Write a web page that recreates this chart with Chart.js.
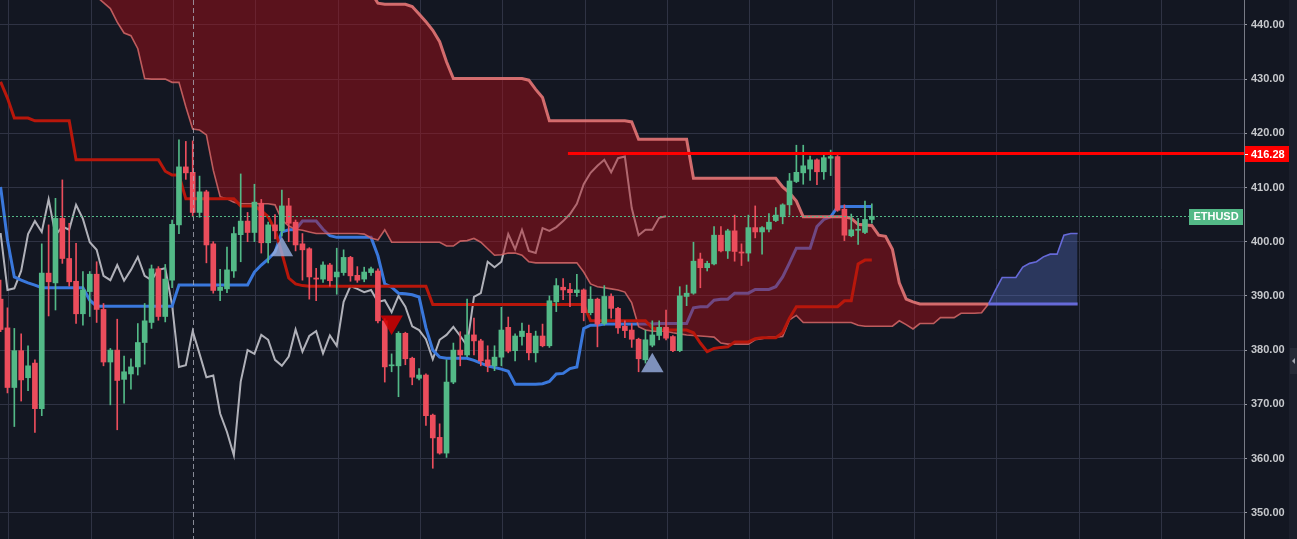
<!DOCTYPE html>
<html><head><meta charset="utf-8">
<script src="https://cdn.jsdelivr.net/npm/chart.js@4.4.1/dist/chart.umd.min.js"></script>
<style>html,body{margin:0;padding:0;background:#131722;overflow:hidden}canvas{display:block}</style>
</head><body><canvas id="c" width="1297" height="539"></canvas>
<script>
// ---------- DATA ----------
const symbol = 'ETHUSD';
const open = [389.4,384.1,373.1,379.9,374.9,377.6,369.2,394.2,392.4,404.3,
396.9,392.7,386.7,390.8,394.0,387.5,377.8,380.0,374.6,375.6,
376.9,381.4,385.1,395.0,386.2,392.9,403.1,413.8,412.8,405.4,
409.2,399.6,391.0,391.3,394.6,401.3,403.8,401.7,407.1,399.8,
403.1,402.0,406.6,403.6,399.6,398.7,393.3,393.1,395.7,393.5,
394.3,397.1,393.8,393.1,394.3,394.6,385.4,377.1,377.1,383.1,
378.5,374.8,375.4,368.0,363.9,361.0,374.1,380.0,379.1,382.8,
381.7,378.2,377.1,378.7,384.2,379.9,382.5,383.1,379.5,382.6,
380.8,388.9,391.6,391.2,390.6,391.1,386.9,389.4,384.9,389.9,
387.7,384.4,383.7,382.0,378.2,380.9,382.7,384.2,382.5,379.9,
389.9,390.5,396.8,395.2,395.9,401.2,398.3,402.0,398.1,397.9,
402.6,401.8,402.3,403.9,404.6,406.8,411.1,412.7,413.4,415.1,
412.9,415.4,415.7,406.0,401.1,402.1,401.7,404.1];
const high = [392.9,387.8,384.0,383.0,380.8,378.2,399.6,403.1,408.0,411.4,
403.4,399.7,394.5,394.5,396.3,388.6,380.3,385.7,378.9,378.4,
384.9,388.6,395.7,395.4,395.8,404.0,418.8,418.5,418.6,412.1,
409.5,400.0,394.9,399.0,402.7,412.5,405.4,410.6,407.8,403.6,
405.0,409.5,408.0,404.0,401.5,398.9,395.1,396.3,396.0,398.8,
398.5,397.3,395.4,395.3,395.3,395.0,385.8,379.3,383.4,383.3,
378.7,376.6,375.6,368.2,366.4,378.2,381.3,383.4,389.4,385.9,
382.0,380.8,380.8,387.9,386.1,383.0,385.0,384.6,383.5,384.8,
390.0,393.2,393.2,392.3,394.0,391.3,391.7,389.6,391.9,390.4,
387.9,385.4,384.9,382.2,383.7,385.4,385.4,387.4,382.7,391.7,
392.0,399.9,397.9,396.4,402.8,402.8,402.3,404.9,399.6,404.9,
406.6,402.8,405.2,406.3,407.0,412.6,417.8,417.8,415.8,415.3,
416.3,416.9,415.9,406.8,405.1,404.3,407.5,407.0];
const low = [383.4,372.1,365.9,370.6,372.5,364.8,367.9,386.3,387.4,396.0,
391.8,384.9,384.6,386.2,385.1,377.1,369.9,365.3,370.2,372.8,
375.4,377.4,384.0,385.5,385.2,391.5,401.5,411.5,404.6,404.5,
396.1,390.5,389.1,390.6,393.4,396.3,400.0,400.0,397.9,396.1,
400.5,401.0,400.0,398.3,392.9,389.4,389.1,392.5,391.8,390.3,
393.8,392.7,392.5,392.6,393.8,385.0,374.1,376.0,371.4,377.3,
373.6,374.5,366.1,358.2,360.8,360.2,373.8,377.1,378.8,379.1,
377.1,376.0,376.2,377.1,379.5,378.0,380.9,378.2,377.8,380.6,
380.5,387.1,389.3,388.0,389.9,385.4,386.5,380.6,384.6,385.9,
383.1,382.3,380.5,376.0,377.6,380.6,381.9,381.9,379.7,379.7,
388.2,390.3,391.5,394.6,395.7,398.1,396.9,396.4,395.6,396.4,
400.7,397.7,401.8,403.7,403.3,404.9,410.9,410.6,411.3,410.5,
411.5,412.2,405.6,400.2,400.9,399.5,401.5,403.4];
const close = [383.8,373.1,379.9,374.5,377.1,369.2,394.2,392.6,404.3,396.9,
392.6,386.7,391.1,394.0,387.5,377.8,380.0,374.4,376.0,376.9,
381.4,385.4,395.0,386.2,393.1,403.2,413.8,412.7,405.4,409.2,
399.4,391.0,391.6,394.8,401.5,403.8,401.7,407.3,399.8,403.1,
402.0,406.6,403.4,399.4,398.5,393.5,393.1,395.7,392.8,394.4,
397.1,393.7,392.9,394.4,395.0,385.4,376.9,377.2,383.1,378.4,
375.0,375.4,367.9,363.8,361.0,374.1,380.0,379.1,382.8,381.7,
378.0,377.1,378.7,383.7,379.8,382.6,383.5,379.5,382.6,380.8,
389.1,391.9,391.1,390.6,391.1,386.9,389.4,384.8,389.9,387.7,
384.1,383.6,382.0,378.4,381.9,382.8,384.2,382.2,379.9,390.0,
390.5,396.4,395.2,396.0,401.2,398.3,402.0,398.2,397.9,402.6,
401.8,402.6,403.6,404.9,406.8,411.2,412.8,414.0,415.1,412.9,
415.5,415.7,405.8,401.2,402.2,402.3,404.1,404.7];

const tenkan = [410.1,400.3,393.5,392.9,392.4,392.0,391.5,391.5,391.5,391.5,
391.5,391.5,391.5,389.2,388.1,388.1,388.1,388.1,388.1,388.1,
388.1,388.1,388.1,388.1,388.1,388.1,392.0,392.0,392.0,392.0,
392.0,392.0,392.0,392.0,392.0,392.0,392.0,394.4,395.7,396.8,
398.1,401.8,402.2,402.2,403.8,403.8,403.8,402.3,401.1,400.8,
400.8,400.8,400.8,400.8,400.8,397.4,392.2,391.6,390.5,390.4,
390.2,389.8,384.1,380.0,378.7,378.5,378.5,378.5,378.5,378.1,
377.6,377.1,376.8,376.5,376.1,373.7,373.7,373.7,373.7,373.8,
374.2,375.6,375.7,376.6,376.9,384.0,384.6,384.6,384.8,384.8,
384.8,384.8,384.8,384.8,384.8,384.8,384.9,384.9,384.9,384.9,
384.9,387.8,388.0,388.0,389.2,389.4,389.4,390.5,390.5,390.5,
391.2,391.2,391.2,391.7,393.5,396.1,398.8,398.8,398.8,402.8,
404.1,404.6,406.4,406.5,406.5,406.5,406.5,406.5];

const kijun = [429.5,426.5,422.8,422.8,422.8,422.3,422.3,422.3,422.3,422.3,
422.3,415.1,415.1,415.1,415.1,415.1,415.1,415.1,415.1,415.1,
415.1,415.1,415.1,415.1,413.0,412.3,412.3,407.9,407.9,407.9,
407.9,407.9,407.9,407.9,407.9,406.6,406.6,406.6,405.7,404.6,
402.2,397.9,393.3,392.2,391.9,391.8,391.8,391.8,391.8,391.8,
391.8,391.8,391.8,391.8,391.8,391.8,391.8,391.8,391.8,391.8,
391.8,391.8,391.8,388.4,388.4,388.4,388.4,388.4,388.4,388.4,
388.4,388.4,388.4,388.4,388.4,388.4,388.4,388.4,388.4,388.4,
388.4,388.4,388.4,388.4,388.4,388.4,385.4,385.4,385.4,385.4,
385.4,385.4,385.4,385.4,385.4,384.1,383.7,383.7,383.7,383.7,
383.7,383.2,381.3,379.7,380.3,380.5,380.6,381.5,381.5,381.5,
382.1,382.3,382.3,382.3,383.2,385.9,388.0,388.0,388.0,388.0,
388.0,388.0,388.0,389.1,389.1,395.9,396.6,396.6];

const chikou = [401.6,391.1,391.4,394.6,401.4,403.8,401.8,407.8,401.2,402.8,
402.2,406.8,404.2,399.9,398.5,393.7,392.9,395.7,392.8,394.8,
397.2,393.7,392.9,394.8,395.1,388.3,376.9,377.2,383.5,379.3,
375.0,375.3,368.3,364.9,360.6,374.2,380.0,379.3,382.8,381.9,
378.2,377.1,378.8,383.8,379.7,382.6,383.5,379.4,382.7,380.8,
388.9,391.8,391.3,390.7,391.1,388.9,389.2,387.0,390.0,388.0,
384.4,383.7,382.0,378.3,381.9,382.8,384.3,382.6,380.8,389.8,
390.5,396.3,395.3,396.3,401.4,398.6,402.2,398.3,397.9,402.5,
402.0,402.7,403.8,405.1,407.0,410.6,412.7,414.0,415.1,412.8,
415.4,415.7,406.2,401.2,402.2,402.2,404.4,404.7];

const spanA = [448,448,448,448,448,448,448,448,448,448,
448,448,448,446.5,445.2,444.1,443.0,440.5,438.5,438.0,
435.6,430.1,430.0,430.0,430.0,429.4,429.4,424.9,420.8,420.6,
419.7,413.2,408.3,407.9,407.3,407.0,407.0,407.0,407.0,407.0,
406.8,404.0,402.9,402.3,402.1,401.8,401.5,401.5,401.5,401.5,
401.5,401.5,401.5,401.4,400.7,400.3,402.2,399.9,399.9,399.9,
399.9,399.9,399.9,399.9,399.9,399.2,399.2,400.1,400.2,400.6,
399.9,398.7,397.5,397.6,397.9,397.9,397.5,396.3,396.1,396.1,
396.1,396.1,396.1,396.1,396.1,394.4,392.2,391.7,391.5,391.3,
391.1,390.7,388.7,384.3,383.7,383.5,383.5,383.5,383.2,383.0,
382.8,382.7,382.6,382.5,382.4,381.3,381.1,381.1,381.1,381.1,
381.9,382.1,382.4,382.4,382.5,385.6,386.4,385.1,385.1,385.1,
385.1,385.1,385.1,385.1,385.1,384.6,384.4,384.4,384.4,384.4,
384.4,385.4,384.7,383.9,384.9,384.9,384.9,386.0,386.0,386.0,
386.8,386.8,386.8,386.9,388.5,391.0,393.4,393.4,393.4,395.3,
396.0,396.3,397.2,397.7,397.7,401.2,401.5,401.5];

const spanB = [448,448,448,448,448,448,448,448,448,448,
448,448,448,448,448,448,448,448,448,448,
448,448,448,448,448,448,448,448,448,448,
448,448,448,448,448,448,448,448,448,448,
448,448,448,448,448,448,448,448,448,448,
448,448,448,448,446.0,444.0,443.8,443.8,443.8,443.8,
443.4,442.0,440.6,439.0,436.9,433.2,430.1,430.1,430.1,430.1,
430.1,430.1,430.1,430.1,430.1,430.1,430.1,429.8,428.1,426.6,
422.3,422.3,422.3,422.3,422.3,422.3,422.3,422.3,422.3,422.3,
422.3,422.3,422.1,418.9,418.9,418.9,418.9,418.9,418.9,418.9,
418.9,411.7,411.7,411.7,411.7,411.7,411.7,411.7,411.7,411.7,
411.7,411.7,411.7,411.7,410.1,409.0,407.5,404.6,404.6,404.6,
404.6,404.6,404.6,404.6,404.3,403.2,403.1,403.0,401.2,401.0,
398.6,392.4,389.4,388.9,388.5,388.5,388.5,388.5,388.5,388.5,
388.5,388.5,388.5,388.5,388.5,388.5,388.5,388.5,388.5,388.5,
388.5,388.5,388.5,388.5,388.5,388.5,388.5,388.5];

const buyIdx = [41, 95];
const buyVal = [398.5, 377.1];
const sellIdx = [57];
const sellVal = [385.2];
const resistanceLevel = 416.28;
const resistanceStartIdx = 82.7;
const markerIdx = 28;
const yTickValues = [350,360,370,380,390,400,410,420,430,440];
const yTickLabels = ['350.00','360.00','370.00','380.00','390.00','400.00','410.00','420.00','430.00','440.00'];
const resistanceLabel = '416.28';

// ---------- STYLE / LAYOUT ----------
const BG = '#131722', GRID = '#2f3344';
const UP = '#53b987', DOWN = '#eb4d5c';
const X_MIN = -0.0875, X_MAX = 181.25;
const Y_MIN = 345.15, Y_MAX = 444.59;
const xGrid = []; for (let k = 0; k < 15; k++) xGrid.push(1.2 + 12 * k);
const FONT = 'Liberation Sans, Arial, sans-serif';

const pts = arr => arr.map((v, i) => ({x: i, y: v}));
const bull = i => spanA[i] >= spanB[i];
const PINK_B = 'rgba(228,118,118,0.9)', PINK_A = 'rgba(214,104,104,0.85)', BLUE_L = 'rgba(106,110,226,0.95)';

const overlay = {
  id: 'overlay',
  beforeDraw(chart) {
    const c = chart.ctx; c.save(); c.fillStyle = BG; c.fillRect(0, 0, chart.width, chart.height); c.restore();
  },
  afterDatasetsDraw(chart) {
    const c = chart.ctx, a = chart.chartArea, xs = chart.scales.x, ys = chart.scales.y;
    c.save();
    c.beginPath(); c.rect(a.left, a.top, a.right - a.left, a.bottom - a.top); c.clip();
    const mx = Math.round(xs.getPixelForValue(markerIdx)) + 0.5;
    c.strokeStyle = 'rgba(175,178,190,0.75)'; c.lineWidth = 1; c.setLineDash([5, 3]);
    c.beginPath(); c.moveTo(mx, a.top); c.lineTo(mx, a.bottom); c.stroke();
    const ly = Math.round(ys.getPixelForValue(close[close.length - 1])) + 0.5;
    c.strokeStyle = UP; c.setLineDash([2, 2]);
    c.beginPath(); c.moveTo(a.left, ly); c.lineTo(1189, ly); c.stroke();
    c.restore();
  },
  afterDraw(chart) {
    const c = chart.ctx, a = chart.chartArea, ys = chart.scales.y;
    c.save();
    c.fillStyle = '#1b1f2b'; c.fillRect(1289, 0, 8, chart.height);
    c.fillStyle = '#262a36'; c.fillRect(1290, 348, 7, 26);
    c.fillStyle = '#a0a3ad'; c.beginPath(); c.moveTo(1292, 361); c.lineTo(1295, 358); c.lineTo(1295, 364); c.closePath(); c.fill();
    const ry = Math.round(ys.getPixelForValue(resistanceLevel)) + 1;
    c.fillStyle = '#ff0000'; c.fillRect(a.right + 1, ry - 8, 44, 16);
    c.fillStyle = '#ffffff'; c.fillRect(a.right + 1, ry, 3, 1);
    c.font = 'bold 11px ' + FONT; c.textBaseline = 'middle'; c.textAlign = 'left';
    c.fillText(resistanceLabel, a.right + 7, ry + 0.5);
    const ly = Math.round(ys.getPixelForValue(close[close.length - 1]));
    c.fillStyle = UP; c.fillRect(1189, ly - 7, 54, 16);
    c.fillStyle = '#ffffff'; c.textAlign = 'center';
    c.fillText(symbol, 1216, ly + 1);
    c.restore();
  }
};

new Chart(document.getElementById('c'), {
  type: 'bar',
  data: {
    datasets: [
      { type: 'line', label: 'Chikou', data: pts(chikou), borderColor: 'rgba(205,205,212,0.85)', borderWidth: 2, pointRadius: 0, tension: 0, order: 9 },
      { type: 'line', label: 'Tenkan', data: pts(tenkan), borderColor: '#3a78dc', borderWidth: 3, pointRadius: 0, tension: 0, order: 8 },
      { type: 'line', label: 'Span B', data: pts(spanB), borderColor: PINK_B, borderWidth: 3, pointRadius: 0, tension: 0, order: 6,
        segment: { borderColor: s => (bull(s.p0DataIndex) && bull(s.p1DataIndex)) ? BLUE_L : PINK_B } },
      { type: 'line', label: 'Span A', data: pts(spanA), borderColor: PINK_A, borderWidth: 1.6, pointRadius: 0, tension: 0, order: 7,
        fill: { target: 2, above: 'rgba(100,130,232,0.30)', below: 'rgba(178,14,22,0.45)' },
        segment: { borderColor: s => (bull(s.p0DataIndex) && bull(s.p1DataIndex)) ? BLUE_L : PINK_A } },
      { type: 'line', label: 'Kijun', data: pts(kijun), borderColor: '#b8170b', borderWidth: 3, pointRadius: 0, tension: 0, order: 5 },
      { label: 'wicks', data: low.map((l, i) => ({x: i, y: [l, high[i]]})), barThickness: 1, grouped: false, minBarLength: 1,
        backgroundColor: ctx => close[ctx.dataIndex] >= open[ctx.dataIndex] ? UP : DOWN, order: 4 },
      { label: 'bodies', data: open.map((o, i) => ({x: i, y: [o, close[i]]})), barThickness: 5, grouped: false, minBarLength: 1,
        backgroundColor: ctx => close[ctx.dataIndex] >= open[ctx.dataIndex] ? UP : DOWN, order: 3 },
      { type: 'line', label: 'buy', data: buyIdx.map((x, k) => ({x, y: buyVal[k]})), showLine: false, pointStyle: 'triangle', pointRadius: 13,
        pointBackgroundColor: 'rgba(150,172,222,0.82)', pointBorderWidth: 0, order: 2 },
      { type: 'line', label: 'sell', data: sellIdx.map((x, k) => ({x, y: sellVal[k]})), showLine: false, pointStyle: 'triangle', pointRadius: 13, pointRotation: 180,
        pointBackgroundColor: 'rgba(212,0,0,0.85)', pointBorderWidth: 0, order: 1 },
      { type: 'line', label: 'resistance', data: [{x: resistanceStartIdx, y: resistanceLevel}, {x: X_MAX, y: resistanceLevel}], borderColor: '#ff0000', borderWidth: 3, pointRadius: 0, order: 0 }
    ]
  },
  options: {
    responsive: false, animation: false, events: [],
    layout: { padding: 0, autoPadding: false },
    plugins: { legend: { display: false }, tooltip: { enabled: false } },
    scales: {
      x: {
        type: 'linear', min: X_MIN, max: X_MAX, offset: false,
        grid: { color: GRID, drawTicks: false, offset: false },
        border: { display: false },
        ticks: { display: false },
        afterBuildTicks: ax => { ax.ticks = xGrid.map(v => ({value: v})); },
        afterFit: ax => { ax.height = 0; ax.paddingLeft = 0; ax.paddingRight = 0; }
      },
      y: {
        type: 'linear', position: 'right', min: Y_MIN, max: Y_MAX,
        grid: { color: GRID, tickColor: '#9598a1', tickLength: 3, drawTicks: true },
        border: { display: true, color: '#787b86', width: 1 },
        ticks: { color: '#c6c8cc', font: { family: FONT, size: 11, weight: 'bold' }, padding: 4,
                 callback: (v, i) => yTickLabels[i] },
        afterBuildTicks: ax => { ax.ticks = yTickValues.map(v => ({value: v})); },
        afterFit: ax => { ax.width = 53; ax.paddingTop = 0; ax.paddingBottom = 0; }
      }
    }
  },
  plugins: [overlay]
});
</script></body></html>
